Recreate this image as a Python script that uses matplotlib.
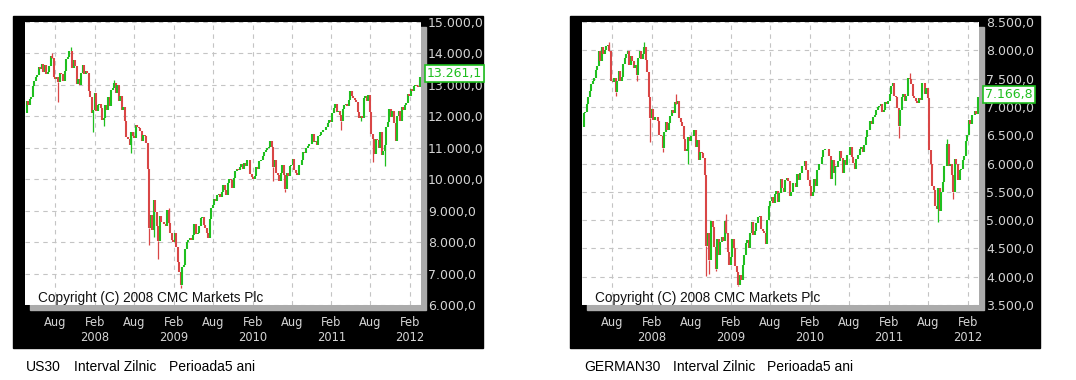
import matplotlib
matplotlib.use('Agg')
import matplotlib.pyplot as plt
import matplotlib.transforms as mtransforms
from matplotlib.patches import Rectangle
import numpy as np
import pandas as pd

# weekly closes (Fridays), mid-March 2007 .. mid-March 2012
us30_close = [
    12110, 12481, 12354,
    12560, 12612, 12961, 13120,
    13265, 13326, 13556, 13507,
    13668, 13424, 13639, 13361, 13408,
    13611, 13907, 13851, 13265,
    13182, 13239, 13079, 13379, 13358,
    13113, 13442, 13821, 13896,
    14066, 14093, 13522, 13807,
    13595, 13043, 13177, 12981, 13372,
    13625, 13340, 13450, 13366,
    # 2008
    12800, 12606, 12099, 12207,
    12743, 12182, 12348, 12381, 12266,
    11894, 11951, 12361, 12216,
    12609, 12325, 12849, 12891,
    13058, 12745, 12986, 12479, 12638,
    12209, 12307, 11843, 11346,
    11288, 11100, 11496, 11370,
    11326, 11734, 11659, 11628, 11543,
    11220, 11421, 11388, 11143,
    10325, 8451, 8852, 8378, 9325,
    8943, 8497, 8046, 8829,
    8635, 8629, 8579, 8515,
    # 2009
    9034, 8599, 8281, 8077, 8001,
    8280, 7850, 7366, 7062,
    6627, 7224, 7279, 7776,
    8017, 8083, 8131, 8076,
    8212, 8575, 8268, 8277, 8500,
    8764, 8799, 8539, 8438,
    8280, 8146, 8743, 9093, 9171,
    9370, 9321, 9505, 9544,
    9441, 9605, 9820, 9665,
    9487, 9864, 9995, 9972, 9712,
    10023, 10270, 10318, 10309,
    10388, 10471, 10328, 10520,
    # 2010
    10428, 10618, 10609, 10172, 10067,
    10012, 10099, 10402, 10325,
    10566, 10625, 10742, 10850,
    10927, 10998, 11019, 11204, 11009,
    10380, 10620, 10193, 10137,
    9931, 10211, 10450, 10144,
    9686, 10198, 10097, 10424, 10466,
    10654, 10303, 10213, 10150,
    10448, 10462, 10607, 10860,
    10829, 11006, 11062, 11133, 11118,
    11444, 11192, 11204, 11092,
    11382, 11410, 11491, 11573, 11578,
    # 2011
    11674, 11787, 11871, 11823,
    12092, 12273, 12391, 12130,
    12170, 12044, 11858, 12221,
    12376, 12380, 12342, 12506, 12811,
    12639, 12596, 12512, 12442,
    12151, 11952, 12004, 11934,
    12582, 12657, 12480, 12681, 12143,
    11445, 11269, 10818, 11285,
    11240, 10993, 11510, 10772, 10913,
    11103, 11645, 11809, 12232,
    11983, 12154, 11796, 11231,
    12019, 12184, 11867, 12295, 12217,
    # 2012
    12360, 12422, 12720, 12660,
    12862, 12801, 12950, 12983,
    12978, 12922, 13261.1,
]

german30_close = [
    6640, 6900, 6917,
    7045, 7180, 7280, 7410,
    7450, 7510, 7650, 7720,
    7990, 7810, 8060, 7940, 8007,
    8070, 8090, 7990, 7450,
    7440, 7510, 7270, 7460, 7640,
    7450, 7530, 7750, 7860,
    7930, 7990, 7740, 7900,
    7810, 7690, 7740, 7570, 7870,
    7990, 7850, 7930, 8067,
    # 2008
    7820, 7610, 7170, 6810,
    6970, 6770, 6830, 6830, 6750,
    6510, 6480, 6270, 6560,
    6740, 6600, 6720, 6840,
    6940, 6900, 7080, 7050, 7100,
    6810, 6740, 6660, 6430,
    6220, 6260, 6470, 6400,
    6480, 6480, 6590, 6300, 6420,
    6070, 6200, 6190, 6100,
    5800, 4540, 4780, 4300, 4990,
    4870, 4530, 4130, 4670,
    4380, 4620, 4700, 4630,
    # 2009
    4980, 4780, 4430, 4200, 4340,
    4670, 4500, 4190, 4080,
    3850, 4030, 3950, 4210,
    4380, 4600, 4650, 4500,
    4770, 4960, 4740, 4810, 4940,
    5050, 5070, 4840, 4800,
    4780, 4580, 5000, 5250, 5330,
    5400, 5310, 5460, 5520,
    5320, 5470, 5720, 5560,
    5490, 5710, 5740, 5690, 5420,
    5490, 5660, 5660, 5590,
    5820, 5710, 5830, 5950,
    # 2010
    5960, 6040, 5880, 5700, 5610,
    5430, 5500, 5720, 5600,
    5880, 5990, 5990, 6120,
    6230, 6250, 6250, 6260, 6140,
    5720, 6060, 5830, 5950,
    5940, 6050, 6220, 6100,
    5830, 6060, 5980, 6150, 6150,
    6290, 6110, 6010, 5910,
    6080, 6150, 6250, 6300,
    6210, 6320, 6460, 6600, 6600,
    6750, 6700, 6820, 6850,
    6950, 7000, 7010, 7060, 6910,
    # 2011
    6950, 7080, 7060, 7100,
    7220, 7370, 7420, 7190,
    7180, 6980, 6660, 6950,
    7180, 7220, 7100, 7200, 7510,
    7490, 7400, 7200, 7160,
    7110, 7070, 7160, 7120,
    7420, 7420, 7220, 7340, 7160,
    6240, 5990, 5600, 5540,
    5250, 5190, 5570, 5160, 5500,
    5680, 5950, 5950, 6350,
    5950, 5990, 5800, 5490,
    6080, 5990, 5700, 5880, 5900,
    # 2012
    6060, 6140, 6400, 6510,
    6770, 6690, 6850, 6860,
    6920, 6880, 7166.8,
]

# intraday extremes (wicks) that stick out of the weekly line
us30_spike_dates = ['2007-07-19', '2007-08-16', '2007-10-11', '2008-01-22', '2008-03-10',
                    '2008-05-02', '2008-07-15', '2008-10-10', '2008-10-28', '2008-11-21',
                    '2009-01-06', '2009-03-06', '2010-05-06', '2010-07-02', '2011-03-16',
                    '2011-06-16', '2011-08-09', '2011-10-04', '2011-11-25']
us30_spike_vals = [14020, 12450, 14200, 11500, 11700,
                   13150, 10830, 7900, 8150, 7450,
                   9090, 6550, 9950, 9600, 11580,
                   11860, 10550, 10420, 11230]

german30_spike_dates = ['2007-07-16', '2007-08-16', '2007-11-21', '2007-12-28', '2008-01-22',
                        '2008-03-17', '2008-05-20', '2008-07-15', '2008-10-10', '2008-10-24',
                        '2008-11-21', '2009-01-06', '2009-03-06', '2010-05-25', '2011-03-16',
                        '2011-05-02', '2011-09-12', '2011-10-27', '2011-11-23']
german30_spike_vals = [8150, 7200, 7450, 8150, 6380,
                       6200, 7230, 6000, 4020, 4050,
                       4100, 5100, 3830, 5620, 6450,
                       7600, 4970, 6430, 5370]

W, H = 1076, 380
GREEN = '#1fbf1f'
RED = '#d94646'
LABEL_GREY = '#d4d4d4'


def fmt_price(v):
    s = '{:,.1f}'.format(v)
    return s.replace(',', 'X').replace('.', ',').replace('X', '.')


def do_panel(fig, box, ax_px, closes, spike_dates, spike_vals, ylo, yhi, ystep, name, text_x):
    # black frame behind the chart
    fig.patches.append(Rectangle((box[0] / W, 1 - box[3] / H), (box[2] - box[0]) / W, (box[3] - box[1]) / H,
                                 transform=fig.transFigure, color='black', zorder=-3))
    x0, y0, x1, y1 = ax_px
    rect = [x0 / W, 1 - y1 / H, (x1 - x0) / W, (y1 - y0) / H]
    # grey drop shadow
    fig.patches.append(Rectangle((rect[0] + 5 / W, rect[1] - 5 / H), rect[2], rect[3],
                                 transform=fig.transFigure, color='#ababab', zorder=-2))
    ax = fig.add_axes(rect, zorder=1)
    ax.set_facecolor('white')

    dates = pd.date_range('2007-03-16', periods=len(closes), freq='W-FRI')
    closes = np.asarray(closes, dtype=float)
    opens = np.r_[closes[0], closes[:-1]]
    cols = np.where(closes >= opens, GREEN, RED)

    # wicks first, bodies on top
    sd = pd.to_datetime(spike_dates)
    ix = np.clip(dates.searchsorted(sd), 0, len(dates) - 1)
    ax.vlines(dates[ix], closes[ix], spike_vals, colors=cols[ix], linewidth=0.9, zorder=2)
    ax.vlines(dates, opens, closes, colors=cols, linewidth=1.5, zorder=3)

    ax.set_xlim(pd.Timestamp('2007-03-15'), pd.Timestamp('2012-03-22'))
    ax.set_ylim(ylo, yhi)

    yt = np.arange(ylo, yhi + 1, ystep)
    ax.set_yticks(yt)
    ax.set_yticklabels([fmt_price(v) for v in yt])
    ax.yaxis.tick_right()

    xt = []
    xl = []
    for yr in range(2007, 2013):
        for m in (2, 8):
            d = pd.Timestamp(yr, m, 1)
            if pd.Timestamp('2007-03-15') < d < pd.Timestamp('2012-03-22'):
                xt.append(d)
                xl.append('Aug' if m == 8 else 'Feb\n{}'.format(yr))
    ax.set_xticks(xt)
    ax.set_xticklabels(xl)

    ax.tick_params(axis='y', length=0, pad=5, labelcolor=LABEL_GREY, labelsize=9)
    ax.tick_params(axis='x', length=0, pad=8, labelcolor=LABEL_GREY, labelsize=8.3)
    for lbl in ax.get_xticklabels():
        lbl.set_linespacing(1.2)
    ax.grid(True, color='#c4c4c4', linestyle=(0, (4, 4)), linewidth=0.8)
    ax.set_axisbelow(True)
    for sp in ax.spines.values():
        sp.set_visible(False)

    ax.text(13 / (x1 - x0), 7 / (y1 - y0), 'Copyright (C) 2008 CMC Markets Plc', transform=ax.transAxes,
            fontsize=9.8, family='Liberation Sans', color='#111111', va='center', ha='left', zorder=5)

    # last price box at the right edge
    tr = mtransforms.blended_transform_factory(ax.transAxes, ax.transData)
    tr = tr + mtransforms.ScaledTranslation(6 / 100, 3 / 100, fig.dpi_scale_trans)
    ax.text(1.0, closes[-1], fmt_price(closes[-1]), transform=tr, fontsize=9, color=GREEN,
            va='center', ha='left', clip_on=False, zorder=10,
            bbox=dict(boxstyle='square,pad=0.15', fc='white', ec=GREEN, lw=1.2))

    # caption under the frame
    for txt, px in zip([name, 'Interval Zilnic', 'Perioada5 ani'], text_x):
        fig.text(px / W, 1 - 367 / H, txt, fontsize=10, family='Liberation Sans', color='black',
                 va='center', ha='left')
    return ax


if __name__ == '__main__':
    fig = plt.figure(figsize=(W / 100, H / 100), dpi=100)
    fig.patch.set_facecolor('white')
    do_panel(fig, (13, 16, 483, 348), (25, 22, 421, 305), us30_close, us30_spike_dates, us30_spike_vals,
             6000, 15000, 1000, 'US30', [26, 74, 169])
    do_panel(fig, (570, 16, 1040, 348), (582, 22, 979, 305), german30_close, german30_spike_dates,
             german30_spike_vals, 3500, 8500, 500, 'GERMAN30', [584, 673, 767])
    fig.savefig('out.png', dpi=100, facecolor='white')
